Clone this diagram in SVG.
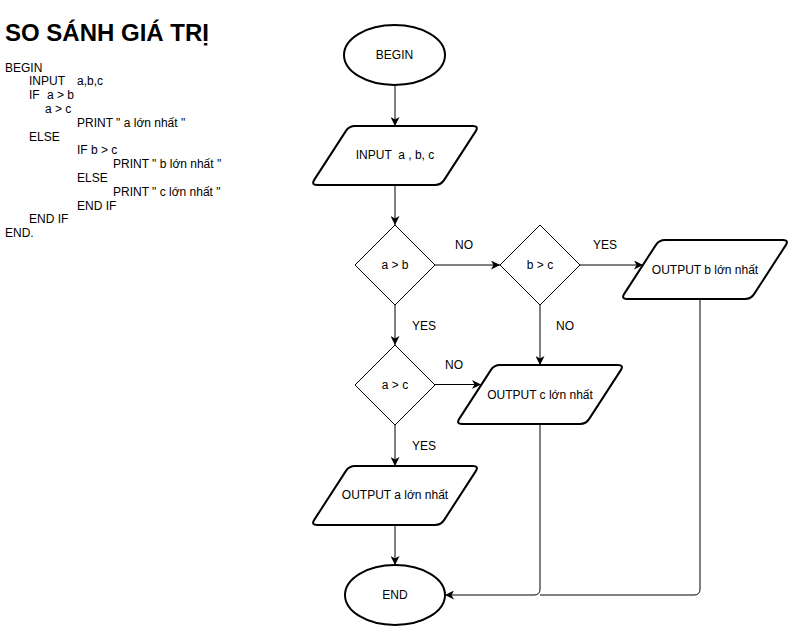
<svg xmlns="http://www.w3.org/2000/svg" xmlns:xlink="http://www.w3.org/1999/xlink" width="792" height="626" viewBox="0 0 792 626">
<style>
text{font-family:"Liberation Sans",Arial,sans-serif;fill:#000;}
.title{font-size:24px;font-weight:bold;}
.code{font-size:12px;}
.lbl{font-size:12px;text-anchor:middle;}
.pre{white-space:pre;}
.shape{fill:#fff;stroke:#000;stroke-width:2;}
.dia{fill:#fff;stroke:#000;stroke-width:1;}
.edge{fill:none;stroke:#000;stroke-width:1;}
</style>
<defs>
<marker id="arr" markerUnits="userSpaceOnUse" markerWidth="10" markerHeight="9" refX="9" refY="4.5" orient="auto">
<path d="M0,0 L9,4.5 L0,9 L2.5,4.5 Z" fill="#000"/>
</marker>
<path id="para" d="M44,0 L162,0 Q168,0 164.8,5.1 L133.2,53.9 Q130,59 124,59 L6,59 Q0,59 3.2,53.9 L34.8,5.1 Q38,0 44,0 Z"/>
</defs>
<rect width="792" height="626" fill="#fff"/>
<g id="pseudocode">
<text class="title" x="5" y="41">SO SÁNH GIÁ TRỊ</text>
<text class="code" x="5" y="71.5">BEGIN</text>
<text class="code" x="29" y="85.3">INPUT</text>
<text class="code" x="77" y="85.3">a,b,c</text>
<text class="code" x="29" y="99.1">IF</text>
<text class="code" x="47" y="99.1">a &gt; b</text>
<text class="code" x="45" y="112.9">a &gt; c</text>
<text class="code" x="77" y="126.7">PRINT " a lớn nhất "</text>
<text class="code" x="29" y="140.5">ELSE</text>
<text class="code" x="77" y="154.3">IF b &gt; c</text>
<text class="code" x="113" y="168.1">PRINT " b lớn nhất "</text>
<text class="code" x="77" y="181.9">ELSE</text>
<text class="code" x="113" y="195.7">PRINT " c lớn nhất "</text>
<text class="code" x="77" y="209.5">END IF</text>
<text class="code" x="29" y="223.3">END IF</text>
<text class="code" x="5" y="237.1">END.</text>
</g>
<g id="connectors">
<line class="edge" x1="395" y1="85" x2="395" y2="126" marker-end="url(#arr)"/>
<line class="edge" x1="395" y1="185" x2="395" y2="225" marker-end="url(#arr)"/>
<line class="edge" x1="435" y1="265" x2="500" y2="265" marker-end="url(#arr)"/>
<line class="edge" x1="580" y1="265" x2="643" y2="265" marker-end="url(#arr)"/>
<line class="edge" x1="540" y1="305" x2="540" y2="365" marker-end="url(#arr)"/>
<line class="edge" x1="395" y1="305" x2="395" y2="345" marker-end="url(#arr)"/>
<line class="edge" x1="435" y1="384.5" x2="481" y2="384.5" marker-end="url(#arr)"/>
<line class="edge" x1="395" y1="425" x2="395" y2="466" marker-end="url(#arr)"/>
<line class="edge" x1="395" y1="525" x2="395" y2="565" marker-end="url(#arr)"/>
<path class="edge" d="M540,425 L540,589 Q540,595 534,595 L445,595" marker-end="url(#arr)"/>
<path class="edge" d="M700,299 L700,589 Q700,595 694,595 L540,595"/>
<text class="lbl" x="464" y="249">NO</text>
<text class="lbl" x="605" y="249">YES</text>
<text class="lbl" x="424" y="330">YES</text>
<text class="lbl" x="565" y="330">NO</text>
<text class="lbl" x="454" y="369">NO</text>
<text class="lbl" x="424" y="450">YES</text>
</g>
<g id="begin">
<ellipse class="shape" cx="394.5" cy="55" rx="50.5" ry="30"/>
<text class="lbl" x="394.5" y="59">BEGIN</text>
</g>
<g id="input">
<use xlink:href="#para" x="311" y="126" class="shape"/>
<text class="lbl pre" x="395" y="159">INPUT  a , b, c</text>
</g>
<g id="cond_ab">
<polygon class="dia" points="395,225 435,265 395,305 355,265"/>
<text class="lbl" x="395" y="269">a &gt; b</text>
</g>
<g id="cond_bc">
<polygon class="dia" points="540,225 580,265 540,305 500,265"/>
<text class="lbl" x="540" y="269">b &gt; c</text>
</g>
<g id="output_b">
<use xlink:href="#para" x="621" y="240" class="shape"/>
<text class="lbl" x="705" y="274">OUTPUT b lớn nhất</text>
</g>
<g id="cond_ac">
<polygon class="dia" points="395,345 435,385 395,425 355,385"/>
<text class="lbl" x="395" y="389">a &gt; c</text>
</g>
<g id="output_c">
<use xlink:href="#para" x="456" y="365" class="shape"/>
<text class="lbl" x="540" y="399">OUTPUT c lớn nhất</text>
</g>
<g id="output_a">
<use xlink:href="#para" x="311" y="466" class="shape"/>
<text class="lbl" x="395" y="499">OUTPUT a lớn nhất</text>
</g>
<g id="end">
<ellipse class="shape" cx="395" cy="595" rx="50" ry="30"/>
<text class="lbl" x="395" y="599">END</text>
</g>
</svg>
